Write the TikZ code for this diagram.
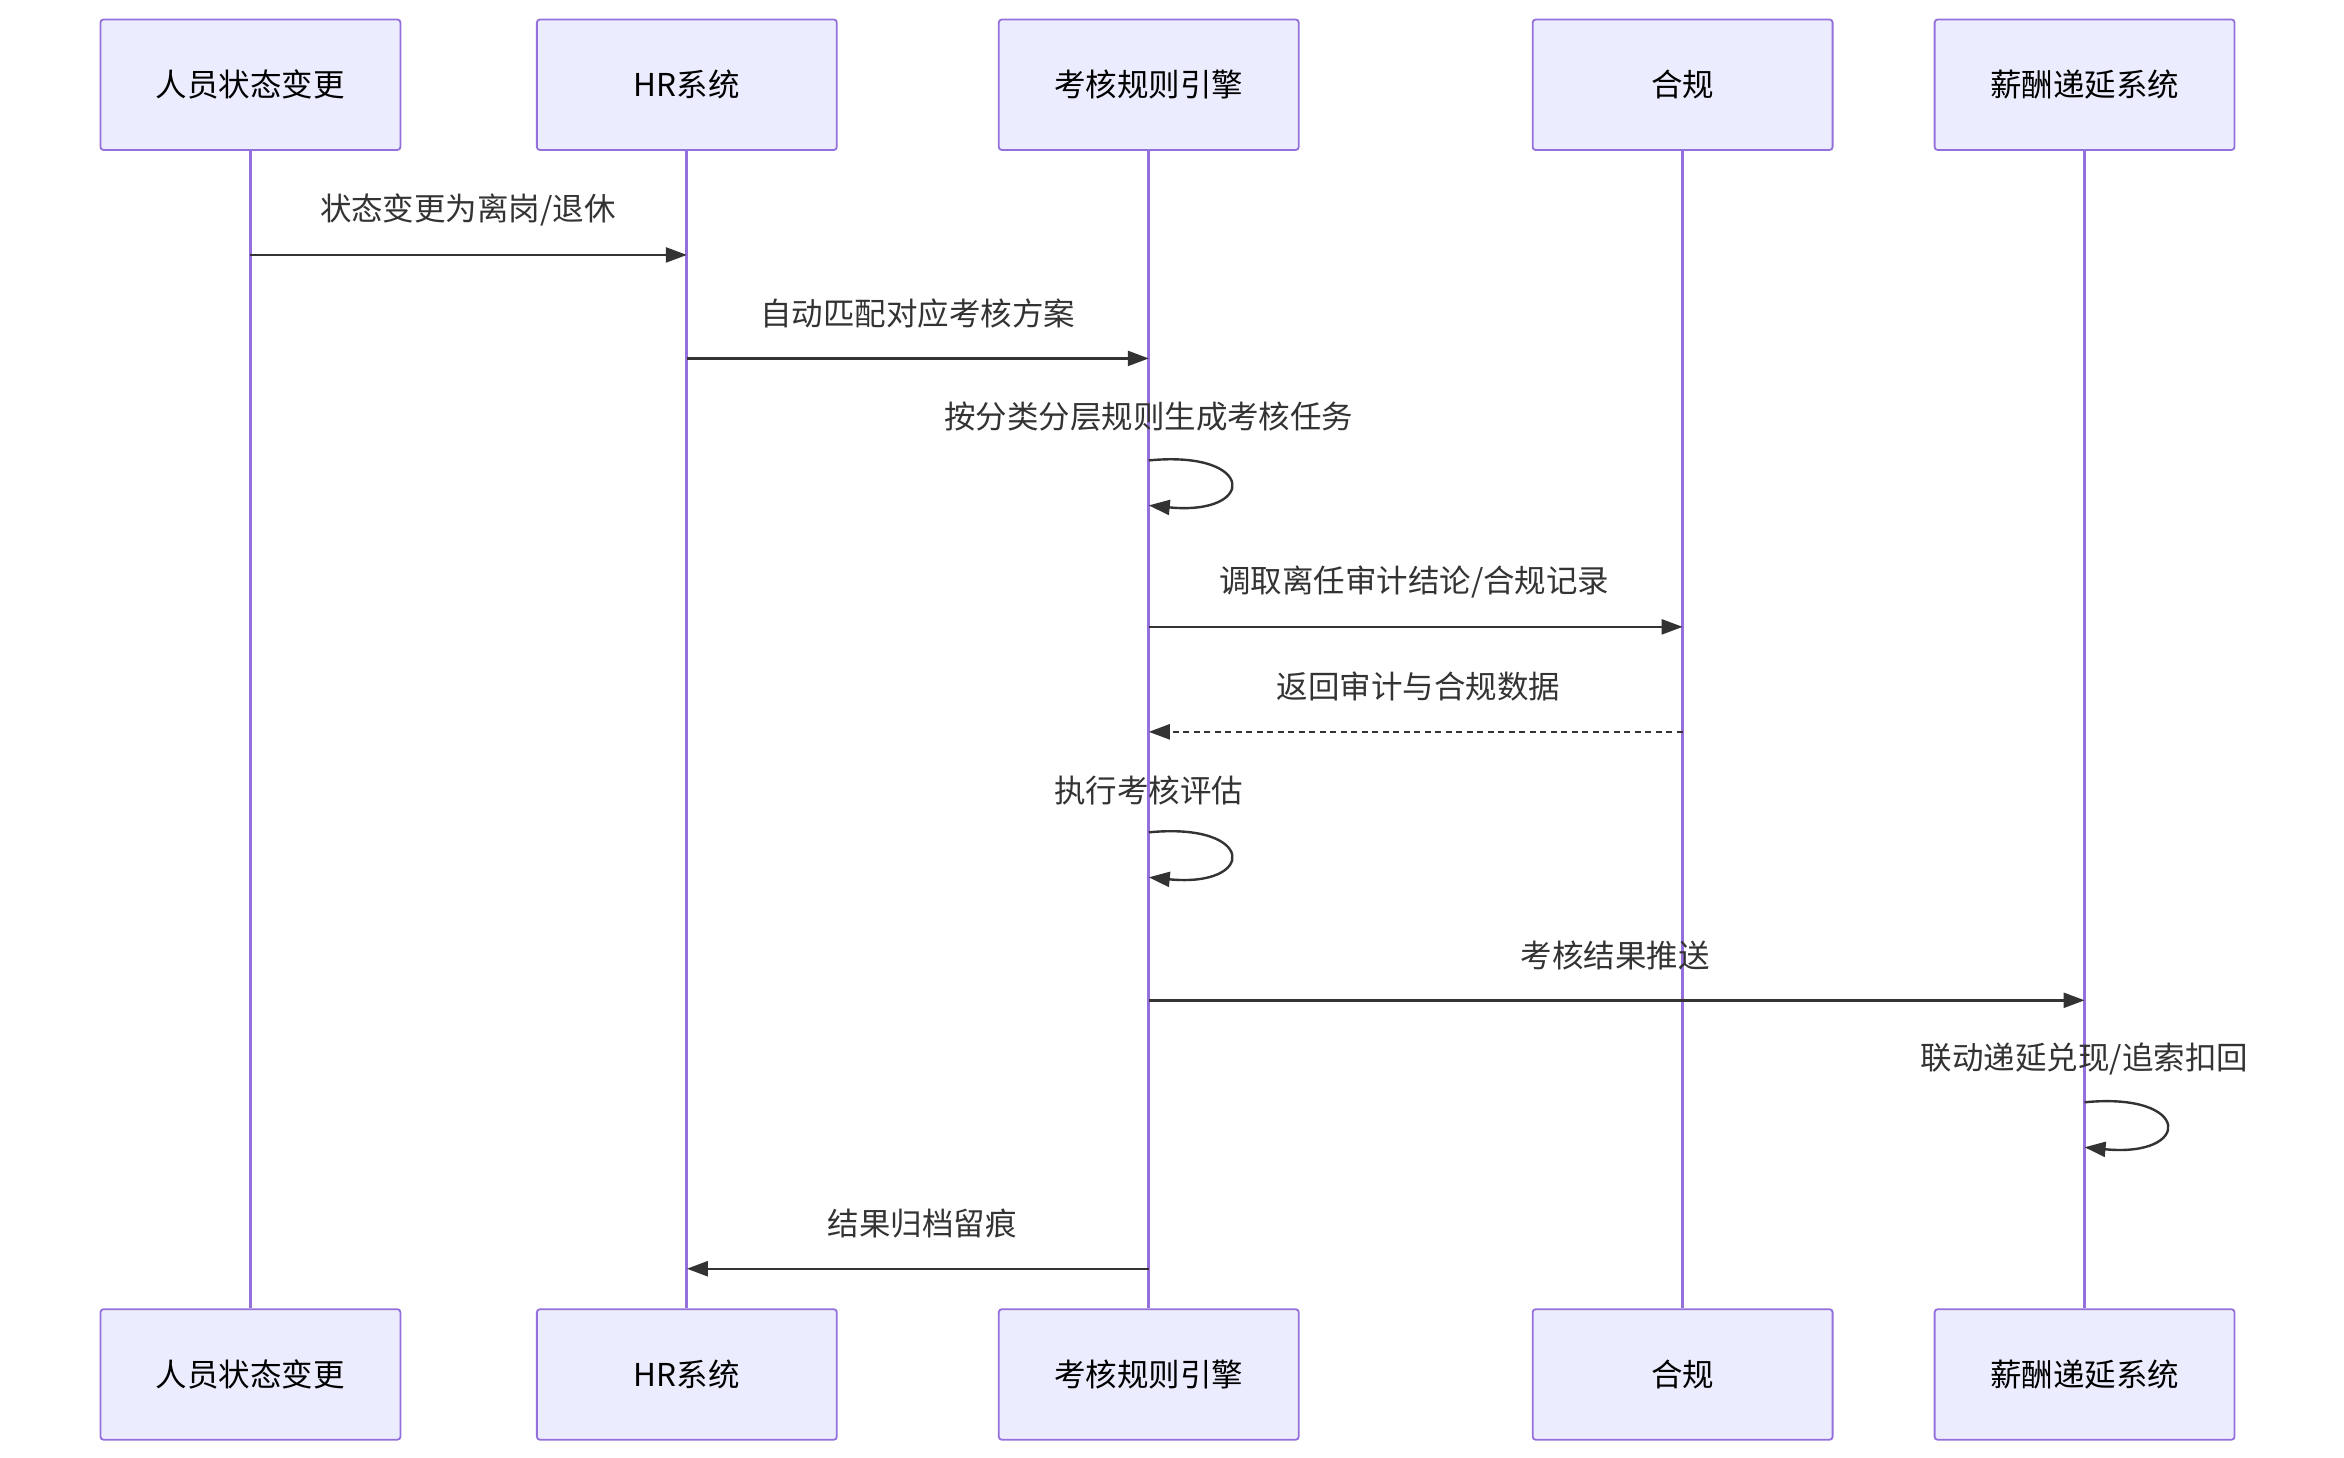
\documentclass[tikz,border=0pt]{standalone}
\usepackage{fontspec}
\setmainfont{Noto Sans CJK SC}
\usetikzlibrary{arrows.meta}
\begin{document}
\begin{tikzpicture}[x=1pt,y=-1pt,
  actor/.style={draw=violet!60!blue!50!purple,draw={rgb,255:red,147;green,112;blue,219},fill={rgb,255:red,236;green,236;blue,255},line width=1.2pt,minimum width=200pt,minimum height=87pt,rounded corners=2pt,font=\fontsize{21}{25}\selectfont,inner sep=0pt},
  life/.style={draw={rgb,255:red,147;green,112;blue,219},line width=2pt},
  msg/.style={draw={rgb,255:red,51;green,51;blue,51},line width=1.6pt,-{Triangle[length=14pt,width=10pt]}},
  lbl/.style={font=\fontsize{21}{25}\selectfont,text={rgb,255:red,51;green,51;blue,51}}]
\useasboundingbox (0,0) rectangle (1563,972);
\foreach \n/\x/\t in {a/167/人员状态变更,b/458/HR系统,c/766/考核规则引擎,d/1122/合规/审计系统,e/1390/薪酬递延系统}{
  \node[actor] (\n t) at (\x,56.5) {\t};
  \node[actor] (\n b) at (\x,916.5) {\t};
  \draw[life] (\n t.south) -- (\n b.north);
}
\foreach \n/\x in {a/167,b/458,c/766,d/1122,e/1390}{
  \foreach \y in {170,239,307,337,418,488,555,585,667,735,765,846}{
    \coordinate (\n\y) at (\x,\y);
  }
}
\coordinate (l1) at (828,322);
\coordinate (l2) at (828,570);
\coordinate (l3) at (1452,750);
\draw[msg] (a170) -- (b170); \node[lbl] (m1) at (312,140) {状态变更为离岗/退休};
\draw[msg] (b239) -- (c239); \node[lbl] (m2) at (612,209) {自动匹配对应考核方案};
\node[lbl] (m3) at (766,278) {按分类分层规则生成考核任务};
\draw[msg] (c307) .. controls (838,300) and (838,344) .. (c337);
\draw[msg] (c418) -- (d418); \node[lbl] (m4) at (943,388) {调取离任审计结论/合规记录};
\draw[msg,dashed,dash pattern=on 4pt off 3pt] (d488) -- (c488); \node[lbl] (m5) at (946,458) {返回审计与合规数据};
\node[lbl] (m6) at (766,527) {执行考核评估};
\draw[msg] (c555) .. controls (838,548) and (838,592) .. (c585);
\draw[msg] (c667) -- (e667); \node[lbl] (m7) at (1077,637) {考核结果推送};
\node[lbl] (m8) at (1390,706) {联动递延兑现/追索扣回};
\draw[msg] (e735) .. controls (1462,728) and (1462,772) .. (e765);
\draw[msg] (c846) -- (b846); \node[lbl] (m9) at (615,816) {结果归档留痕};
\end{tikzpicture}
\end{document}
